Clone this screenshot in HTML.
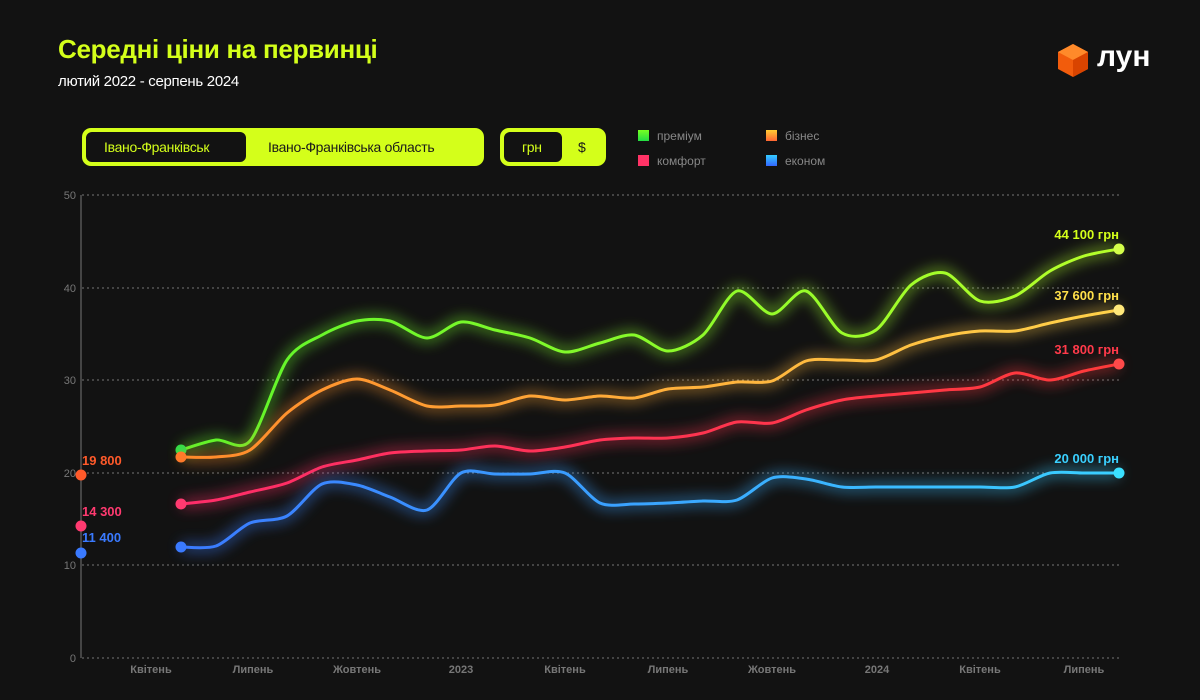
<!DOCTYPE html>
<html><head><meta charset="utf-8"><style>
body{margin:0;background:#121212;width:1200px;height:700px;overflow:hidden;font-family:"Liberation Sans",sans-serif;position:relative}
.t{position:absolute;left:58px;top:34px;color:#d4ff1a;font-size:26px;font-weight:bold;letter-spacing:-0.3px}
.s{position:absolute;left:58px;top:73px;color:#fff;font-size:15px;letter-spacing:-0.3px}
.tg{position:absolute;top:128px;height:38px;background:#d4ff1a;border-radius:9px;display:flex;align-items:center;box-sizing:border-box;padding:2px}
.tg div{height:34px;line-height:34px;padding:0 20px;font-size:14px;color:#1a1a1a;border-radius:8px;letter-spacing:-0.3px}
.tg .a{background:#121212;color:#d4ff1a;border:2px solid #d4ff1a;box-sizing:border-box;line-height:30px}
.lg{position:absolute;font-size:12px;color:#888}
.lg i{display:inline-block;width:11px;height:11px;margin-right:8px;vertical-align:-1px}
</style></head><body>
<div class="t">Середні ціни на первинці</div>
<div class="s">лютий 2022 - серпень 2024</div>
<div class="tg" style="left:82px;width:402px"><div class="a" style="width:164px;padding:0 0 0 18px">Івано-Франківськ</div><div>Івано-Франківська область</div></div>
<div class="tg" style="left:500px;width:106px"><div class="a" style="width:62px;padding:0 0 0 18px">грн</div><div style="padding:0 0 0 14px">$</div></div>
<div class="lg" style="left:638px;top:129px"><i style="background:linear-gradient(#7f2,#2d4)"></i>преміум</div>
<div class="lg" style="left:766px;top:129px"><i style="background:linear-gradient(#fc3,#f63)"></i>бізнес</div>
<div class="lg" style="left:638px;top:154px"><i style="background:#f36"></i>комфорт</div>
<div class="lg" style="left:766px;top:154px"><i style="background:linear-gradient(#3cf,#36f)"></i>економ</div>
<svg style="position:absolute;left:1055px;top:42px" width="36" height="36" viewBox="0 0 36 36"><polygon points="18,2 33,10 33,27 18,35 3,27 3,10" fill="#f25c0c"/><polygon points="18,2 33,10 18,18 3,10" fill="#ff8a2a"/><polygon points="18,18 33,10 33,27 18,35" fill="#d94400"/></svg>
<div style="position:absolute;left:1097px;top:40px;color:#fff;font-size:30px;font-weight:bold">лун</div>
<svg id="c" width="1200" height="700" style="position:absolute;left:0;top:0">
<defs><filter id="g" x="-20%" y="-50%" width="140%" height="200%"><feGaussianBlur stdDeviation="7"/></filter></defs>
<g stroke="#777" stroke-dasharray="2,3" stroke-width="1">
<line x1="82" x2="1120" y1="195" y2="195"/><line x1="82" x2="1120" y1="288" y2="288"/><line x1="82" x2="1120" y1="380" y2="380"/><line x1="82" x2="1120" y1="473" y2="473"/><line x1="82" x2="1120" y1="565" y2="565"/><line x1="82" x2="1120" y1="658" y2="658"/></g>
<line x1="81" x2="81" y1="195" y2="658" stroke="#777"/>
<g fill="#777" font-size="11" text-anchor="end"><text x="76" y="199">50</text><text x="76" y="292">40</text><text x="76" y="384">30</text><text x="76" y="477">20</text><text x="76" y="569">10</text><text x="76" y="662">0</text></g>
<g fill="#777" font-size="11" font-weight="bold" text-anchor="middle"><text x="151" y="673">Квітень</text><text x="253" y="673">Липень</text><text x="357" y="673">Жовтень</text><text x="461" y="673">2023</text><text x="565" y="673">Квітень</text><text x="668" y="673">Липень</text><text x="772" y="673">Жовтень</text><text x="877" y="673">2024</text><text x="980" y="673">Квітень</text><text x="1084" y="673">Липень</text></g>
<g id="L"></g>
<g font-size="13" font-weight="bold">
<text x="1119" y="239" text-anchor="end" fill="#d4ff1a">44 100 грн</text>
<text x="1119" y="300" text-anchor="end" fill="#ffe04a">37 600 грн</text>
<text x="1119" y="354" text-anchor="end" fill="#ff3a4a">31 800 грн</text>
<text x="1119" y="463" text-anchor="end" fill="#3ad0ff">20 000 грн</text>
<text x="82" y="465" fill="#ff5a2a">19 800</text>
<text x="82" y="516" fill="#ff3a70">14 300</text>
<text x="82" y="542" fill="#3a7aff">11 400</text></g>
<circle cx="81" cy="475" r="5.5" fill="#ff5a2a"/><circle cx="81" cy="526" r="5.5" fill="#ff3a70"/><circle cx="81" cy="553" r="5.5" fill="#3a7aff"/>
</svg>
<script>
var X=[181,216,250,287,322,357,390,427,461,495,530,565,600,634,668,703,737,772,806,842,876,911,945,980,1015,1050,1084,1119];
var S=[
["#5cf52a","#b6ff2a",[450,440,441,360,335,321,321,338,322,330,338,352,343,335,351,335,291,314,291,333,330,285,273,301,296,271,256,249],"#2fe04a","#d4ff4a"],
["#ff8a2a","#ffd24a",[457,457,450,413,390,379,390,406,406,405,396,400,396,398,389,387,382,381,361,360,360,345,336,331,331,323,316,310],"#ff7a2a","#ffe87a"],
["#ff2d6a","#ff3a3a",[504,500,492,483,467,460,453,451,450,446,451,447,440,438,438,433,422,423,410,400,396,393,390,387,373,380,371,364],"#ff3a70","#ff4a4a"],
["#3a7aff","#3ad0ff",[547,546,523,516,484,485,497,510,473,474,474,473,503,504,503,501,500,478,479,487,487,487,487,487,487,473,473,473],"#3a7aff","#3ae0ff"]];
var h="";S.forEach(function(s,k){var Y=s[2],d="M"+X[0]+","+Y[0];for(var i=0;i<X.length-1;i++){var p0=i?i-1:i,p3=i+2<X.length?i+2:i+1;
d+=" C"+(X[i]+(X[i+1]-X[p0])/7)+","+(Y[i]+(Y[i+1]-Y[p0])/7)+" "+(X[i+1]-(X[p3]-X[i])/7)+","+(Y[i+1]-(Y[p3]-Y[i])/7)+" "+X[i+1]+","+Y[i+1];}
h+='<linearGradient id="lg'+k+'" x1="0" x2="1"><stop offset="0" stop-color="'+s[0]+'"/><stop offset="1" stop-color="'+s[1]+'"/></linearGradient>';
h+='<path d="'+d+'" fill="none" stroke="url(#lg'+k+')" stroke-width="8" opacity="0.6" filter="url(#g)"/><path d="'+d+'" fill="none" stroke="url(#lg'+k+')" stroke-width="3"/>';
h+='<circle cx="181" cy="'+Y[0]+'" r="5.5" fill="'+s[3]+'"/><circle cx="1119" cy="'+Y[27]+'" r="5.5" fill="'+s[4]+'"/>';});
document.getElementById("L").innerHTML=h;
</script>
</body></html>
